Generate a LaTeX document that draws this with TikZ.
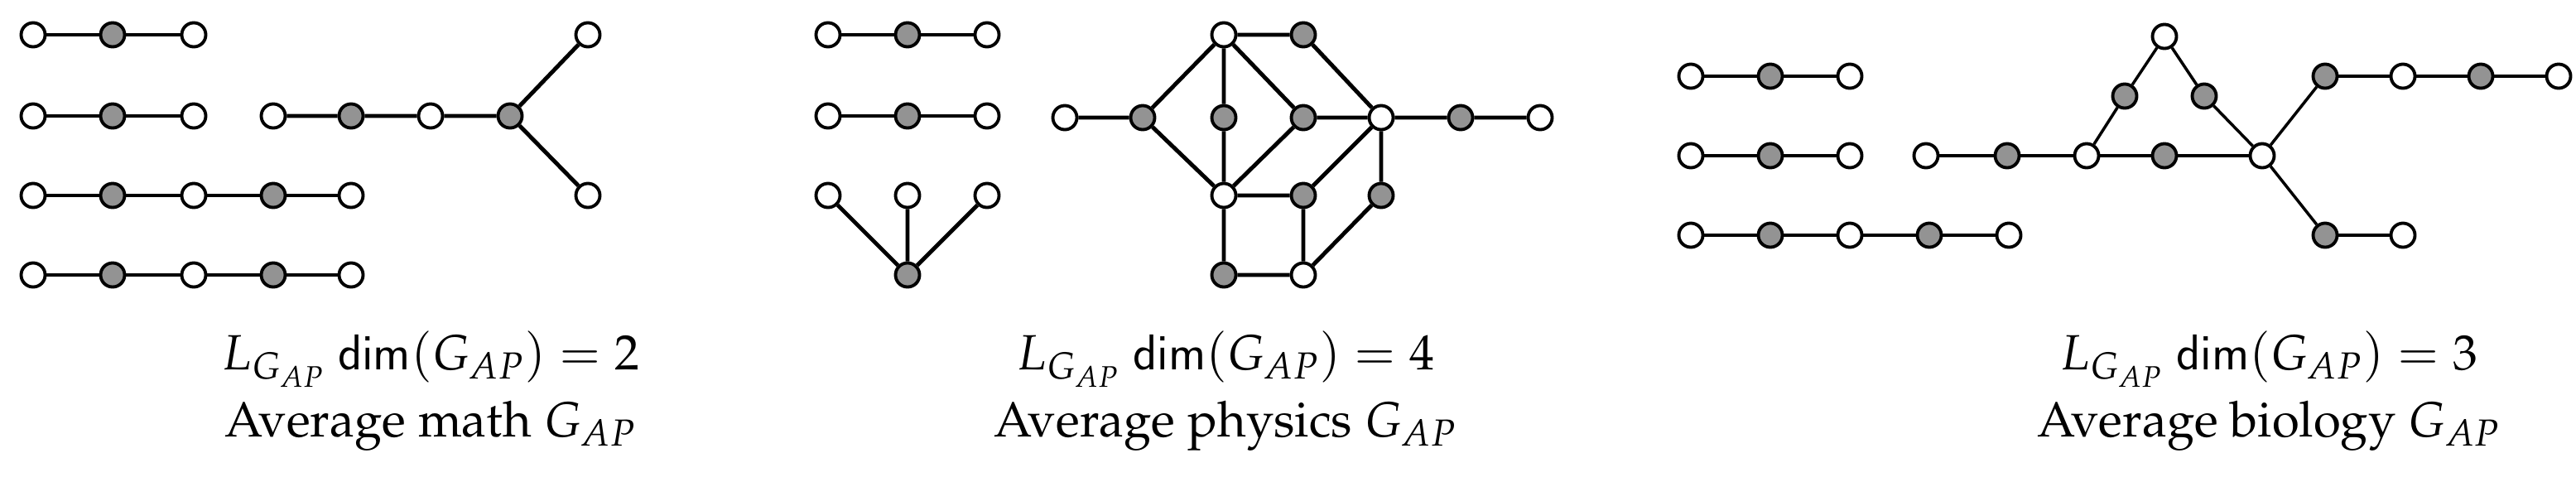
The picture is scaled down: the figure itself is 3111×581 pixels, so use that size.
\documentclass[tikz,border=0pt]{standalone}
\usepackage[T1]{fontenc}
\usepackage{mathpazo}
\begin{document}
\begin{tikzpicture}[x=0.01cm,y=-0.01cm,
  v/.style={circle,draw,line width=1.1pt,minimum size=0.29cm,inner sep=0pt,fill=white},
  g/.style={v,fill=gray!85},
  every path/.style={line width=1.4pt},
  thin/.style={line width=1pt},
  lab/.style={font=\fontsize{17}{23}\selectfont,align=center}]
\useasboundingbox (0,0) rectangle (3111,581);
% ---------- left
\foreach \r/\y in {a/42,b/140}{
  \node[v] (\r1) at (40,\y){}; \node[g] (\r2) at (136,\y){}; \node[v] (\r3) at (234,\y){};
  \draw (\r1)--(\r2)--(\r3);}
\foreach \r/\y in {c/236,d/332}{
  \node[v] (\r1) at (40,\y){}; \node[g] (\r2) at (136,\y){}; \node[v] (\r3) at (234,\y){};
  \node[g] (\r4) at (330,\y){}; \node[v] (\r5) at (424,\y){};
  \draw (\r1)--(\r2)--(\r3)--(\r4)--(\r5);}
\node[v] (e1) at (330,140){}; \node[g] (e2) at (424,140){}; \node[v] (e3) at (520,140){};
\node[g] (e4) at (616,140){}; \node[v] (e5) at (710,42){}; \node[v] (e6) at (710,236){};
\draw (e1)--(e2)--(e3)--(e4)--(e5); \draw (e4)--(e6);
\node[lab] (t1) at (520,472) {$L_{G_{AP}}\ \mathsf{dim}(G_{AP})=2$\\Average math $G_{AP}$};
% ---------- middle
\foreach \r/\y in {f/42,h/140}{
  \node[v] (\r1) at (1000,\y){}; \node[g] (\r2) at (1096,\y){}; \node[v] (\r3) at (1192,\y){};
  \draw (\r1)--(\r2)--(\r3);}
\node[v] (k1) at (1000,236){}; \node[v] (k2) at (1096,236){}; \node[v] (k3) at (1192,236){};
\node[g] (k4) at (1096,332){};
\draw (k1)--(k4)--(k2); \draw (k3)--(k4);
\node[v] (A) at (1478,42){}; \node[g] (B) at (1574,42){};
\node[v] (L1) at (1286,142){}; \node[g] (L2) at (1380,142){}; \node[g] (C) at (1478,142){};
\node[g] (D) at (1574,142){}; \node[v] (E) at (1668,142){}; \node[g] (F) at (1764,142){};
\node[v] (G) at (1860,142){}; \node[v] (H) at (1478,236){}; \node[g] (I) at (1574,236){};
\node[g] (J) at (1668,236){}; \node[g] (K) at (1478,332){}; \node[v] (M) at (1574,332){};
\draw (A)--(B) (A)--(L2) (A)--(C) (A)--(D) (B)--(E) (L1)--(L2) (L2)--(H) (C)--(H)
 (D)--(E) (D)--(H) (E)--(F) (F)--(G) (E)--(I) (E)--(J) (H)--(I) (H)--(K) (I)--(M) (J)--(M) (K)--(M);
\node[lab] (t2) at (1480,472) {$L_{G_{AP}}\ \mathsf{dim}(G_{AP})=4$\\Average physics $G_{AP}$};
% ---------- right
\foreach \r/\y in {p/92,q/188}{
  \node[v] (\r1) at (2042,\y){}; \node[g] (\r2) at (2138,\y){}; \node[v] (\r3) at (2234,\y){};
  \draw (\r1)--(\r2)--(\r3);}
\node[v] (s1) at (2042,284){}; \node[g] (s2) at (2138,284){}; \node[v] (s3) at (2234,284){};
\node[g] (s4) at (2330,284){}; \node[v] (s5) at (2426,284){};
\draw (s1)--(s2)--(s3)--(s4)--(s5);
\node[v] (m1) at (2326,188){}; \node[g] (m2) at (2424,188){}; \node[v] (m3) at (2520,188){};
\node[g] (m4) at (2614,188){}; \node[v] (m5) at (2732,188){};
\node[v] (T) at (2614,44){}; \node[g] (T1) at (2566,116){}; \node[g] (T2) at (2662,116){};
\node[g] (u1) at (2808,92){}; \node[v] (u2) at (2902,92){}; \node[g] (u3) at (2996,92){}; \node[v] (u4) at (3090,92){};
\node[g] (w1) at (2808,284){}; \node[v] (w2) at (2902,284){};
\draw (m1)--(m2)--(m3)--(m4)--(m5);
\draw (u1)--(u2)--(u3)--(u4); \draw (w1)--(w2);
\draw[thin] (m3)--(T1)--(T)--(T2)--(m5)--(u1) (m5)--(w1);
\node[lab] (t3) at (2740,472) {$L_{G_{AP}}\ \mathsf{dim}(G_{AP})=3$\\Average biology $G_{AP}$};
\end{tikzpicture}
\end{document}
